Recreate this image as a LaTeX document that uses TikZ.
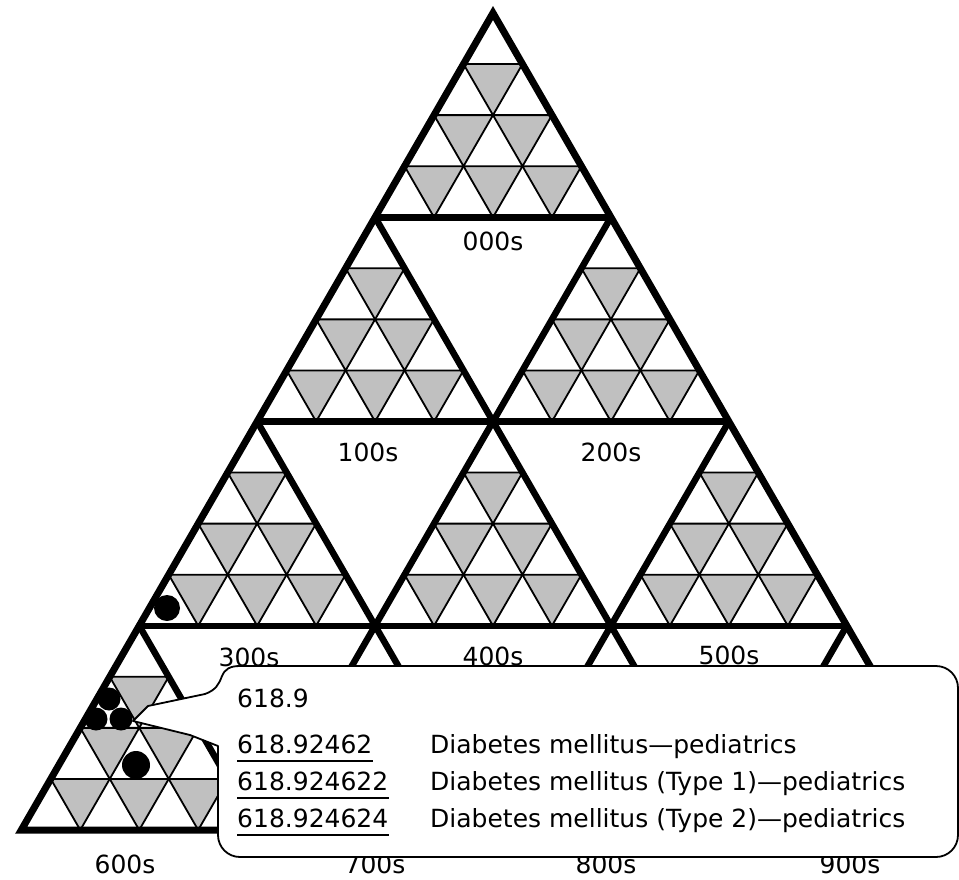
\documentclass[tikz,border=0pt]{standalone}
\usepackage{fontspec}
\setmainfont{DejaVu Sans}
\usetikzlibrary{calc}
\definecolor{cellgray}{RGB}{192,192,192}
\begin{document}
\begin{tikzpicture}[x=1pt,y=-1pt,
  cell/.style={fill=cellgray,draw=black,line width=1.8pt,line join=round},
  frame/.style={draw=black,line width=6.5pt},
  dot/.style={fill=black},
  lbl/.style={font=\fontsize{25}{30}\selectfont,inner sep=0pt},
  txt/.style={font=\fontsize{25}{30}\selectfont,inner sep=0pt,anchor=base west},
  uline/.style={draw=black,line width=1.8pt},
  callout/.style={draw=black,fill=white,line width=1.8pt,line join=round}]
\useasboundingbox (0,0) rectangle (959,879);
\clip (0,0) rectangle (959,879);
\fill[white] (0,0) rectangle (959,879);

% corners of the large triangle
\coordinate (A) at (493,13);
\coordinate (B) at (21.3,830);
\coordinate (C) at (964.7,830);

% grey downward cells inside every upward block
\foreach \i in {0,...,3}{
  \foreach \j in {0,...,\i}{
    \pgfmathsetmacro\px{493+(\j-\i/2)*235.85}
    \pgfmathsetmacro\py{13+\i*204.25}
    \foreach \r in {1,2,3}{
      \foreach \k in {1,...,\r}{
        \pgfmathsetmacro\xl{\px-\r*58.9625/2+(\k-1)*58.9625}
        \pgfmathsetmacro\yt{\py+\r*51.0625}
        \draw[cell] (\xl,\yt) -- ++(58.9625,0) -- ++(-29.48125,51.0625) -- cycle;
      }
    }
  }
}

% heavy grid of the blocks
\foreach \m in {1,2,3}{
  \draw[frame] ($(A)!\m/4!(B)$) -- ($(A)!\m/4!(C)$);
  \draw[frame] ($(A)!\m/4!(B)$) -- ($(C)!\m/4!(B)$);
  \draw[frame] ($(A)!\m/4!(C)$) -- ($(B)!\m/4!(C)$);
}
\draw[frame,line width=7pt] (A) -- (B) -- (C) -- cycle;

% markers
\fill[dot] (167,608) circle[radius=13];
\fill[dot] (109,699) circle[radius=11.5];
\fill[dot] (96,719) circle[radius=11.5];
\fill[dot] (121,719) circle[radius=11.5];
\fill[dot] (136,765) circle[radius=14];

% block labels
\node[lbl] (l000) at (493,241) {000s};
\node[lbl] (l100) at (368,452) {100s};
\node[lbl] (l200) at (611,452) {200s};
\node[lbl] (l300) at (249,657) {300s};
\node[lbl] (l400) at (493,656) {400s};
\node[lbl] (l500) at (729,655) {500s};
\node[lbl] (l600) at (125,864) {600s};
\node[lbl] (l700) at (375,864) {700s};
\node[lbl] (l800) at (606,864) {800s};
\node[lbl] (l900) at (850,864) {900s};

% callout balloon
\coordinate (tip) at (133,721);
\draw[callout] (tip) -- (148,706) -- (205,694)
  .. controls (216,690) and (219,684) .. (222,676)
  .. controls (225,669) and (230,666) .. (240,666)
  -- (936,666) .. controls (948.2,666) and (958,675.8) .. (958,688)
  -- (958,835) .. controls (958,847.2) and (948.2,857) .. (936,857)
  -- (240,857) .. controls (227.8,857) and (218,847.2) .. (218,835)
  -- (218,746) -- (190,735) -- cycle;

\node[txt] (head) at (237,707) {618.9};
\node[txt] (n1) at (237,753) {618.92462};
\node[txt] (n2) at (237,790) {618.924622};
\node[txt] (n3) at (237,827) {618.924624};
\foreach \n in {n1,n2,n3}{
  \draw[uline] ([yshift=-8pt]\n.base west) -- ([yshift=-8pt]\n.base east);
}
\node[txt] (d1) at (430,753) {Diabetes mellitus—pediatrics};
\node[txt] (d2) at (430,790) {Diabetes mellitus (Type 1)—pediatrics};
\node[txt] (d3) at (430,827) {Diabetes mellitus (Type 2)—pediatrics};
\end{tikzpicture}
\end{document}
